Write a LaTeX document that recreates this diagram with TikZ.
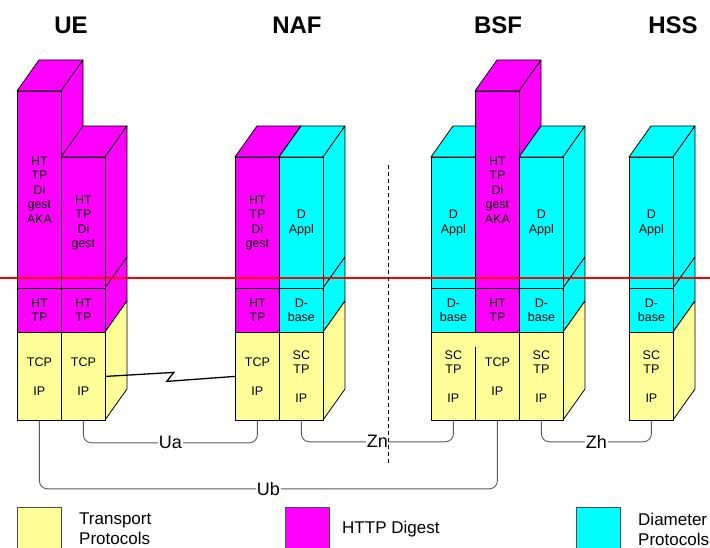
\documentclass[tikz,border=0pt]{standalone}
\usepackage{fontspec}
\setmainfont{Liberation Sans}
\definecolor{tyellow}{HTML}{FFFF99}
\definecolor{hmag}{HTML}{FF00FF}
\definecolor{dcyan}{HTML}{00FFFF}
\definecolor{conngray}{HTML}{5A5A5A}
\tikzset{
  face/.style={draw=black, line width=0.8pt, line join=round},
  cell/.style={draw=black, line width=0.8pt, anchor=north west, minimum width=44pt,
    inner sep=0pt, align=center, font=\fontsize{12.5}{14.5}\selectfont},
  conn/.style={draw=conngray, line width=0.9pt, rounded corners=8pt},
  lab/.style={fill=white, inner sep=1pt, font=\fontsize{18}{20}\selectfont},
  hdr/.style={font=\fontsize{24}{26}\selectfont\bfseries, inner sep=0pt},
  legbox/.style={draw=black!70, line width=0.8pt, anchor=north west, minimum width=44pt,
    minimum height=46pt, inner sep=0pt},
  legtxt/.style={anchor=west, align=left, inner sep=0pt, font=\fontsize{17}{20}\selectfont},
  zap/.style={draw=black, line width=1.3pt, line join=miter},
  redline/.style={draw=red, line width=1.6pt},
  sepline/.style={draw=black, line width=0.9pt, dash pattern=on 4pt off 3pt}
}
\newcommand{\pcol}[9]{%
  \filldraw[face,fill=#4] (#2,#3) -- ++(44,0) -- ++(22,-31) -- ++(-44,0) -- cycle;
  \filldraw[face,fill=#4] (#2+44,#3) -- ++(22,-31) -- (#2+66,257) -- (#2+44,288) -- cycle;
  \filldraw[face,fill=#6] (#2+44,288) -- (#2+66,257) -- (#2+66,301) -- (#2+44,332) -- cycle;
  \filldraw[face,fill=tyellow] (#2+44,332) -- (#2+66,301) -- (#2+66,389) -- (#2+44,420) -- cycle;
  \node[cell,fill=#4,minimum height={288-#3}] (#1t) at (#2,#3) {#5};
  \node[cell,fill=#6,minimum height=44] (#1m) at (#2,288) {#7};
  \node[cell,fill=tyellow,minimum height=88,#9] (#1b) at (#2,332) {#8};
}
\begin{document}
\begin{tikzpicture}[x=1pt,y=-1pt]
\useasboundingbox (0,0) rectangle (710,548);

% headers
\node[hdr] (ue)  at (71,25)  {UE};
\node[hdr] (naf) at (297,25) {NAF};
\node[hdr] (bsf) at (498,25) {BSF};
\node[hdr] (hss) at (673,25) {HSS};

% UE
\pcol{uea}{17}{91}{hmag}{HT\\TP\\Di\\gest\\AKA}{hmag}{HT\\TP}{TCP\\[14.5pt]IP}{}
\pcol{ueb}{61}{157}{hmag}{HT\\TP\\Di\\gest}{hmag}{HT\\TP}{TCP\\[14.5pt]IP}{}
% NAF
\pcol{nafa}{235}{157}{hmag}{HT\\TP\\Di\\gest}{hmag}{HT\\TP}{TCP\\[14.5pt]IP}{}
\pcol{nafb}{279}{157}{dcyan}{D\\Appl}{dcyan}{D-\\base}{SC\\TP\\[14.5pt]IP}{}
% BSF
\pcol{bsfa}{431}{157}{dcyan}{D\\Appl}{dcyan}{D-\\base}{SC\\TP\\[14.5pt]IP}{draw=none}
\pcol{bsfb}{475}{91}{hmag}{HT\\TP\\Di\\gest\\AKA}{hmag}{HT\\TP}{TCP\\[14.5pt]IP}{draw=none}
\pcol{bsfc}{519}{157}{dcyan}{D\\Appl}{dcyan}{D-\\base}{SC\\TP\\[14.5pt]IP}{draw=none}
\draw[face] (bsfab.north west) rectangle (bsfcb.south east);
\draw[face] (bsfcb.north west) -- (bsfcb.south west);
\draw[face] (bsfbb.south west) -- ++(0,-74);
% HSS
\pcol{hss}{629}{157}{dcyan}{D\\Appl}{dcyan}{D-\\base}{SC\\TP\\[14.5pt]IP}{}

% red line
\coordinate (rl) at (0,278);
\coordinate (rr) at (710,278);
\draw[redline] (rl) -- (rr);

% radio link
\draw[zap] (uebb.east) -- ++(68,-4) -- ++(-7,9) -- (nafab.west);

% interfaces
\draw[conn] (ueab.south) -- ++(0,68) -| (bsfbb.south) node[pos=0.25,lab] (ub) {Ub};
\draw[conn] (uebb.south) -- ++(0,22) -| (nafab.south) node[pos=0.25,lab] (ua) {Ua};
\draw[conn] (nafbb.south) -- ++(0,21) -| (bsfab.south) node[pos=0.25,lab] (zn) {Zn};
\draw[conn] (bsfcb.south) -- ++(0,21) -| (hssb.south) node[pos=0.25,lab] (zh) {Zh};

% domain separator
\coordinate (dtop) at (388,165);
\coordinate (dbot) at (388,463);
\draw[sepline] (dtop) -- (dbot);

% legend
\node[legbox,fill=tyellow] (lgt) at (17,507) {};
\node[legtxt] (lgtt) at (79,529) {Transport\\Protocols};
\node[legbox,fill=hmag] (lgh) at (285,507) {};
\node[legtxt] (lght) at (342,529) {HTTP Digest};
\node[legbox,fill=dcyan] (lgd) at (576,507) {};
\node[legtxt] (lgdt) at (638,529) {Diameter\\Protocols};
\end{tikzpicture}
\end{document}
